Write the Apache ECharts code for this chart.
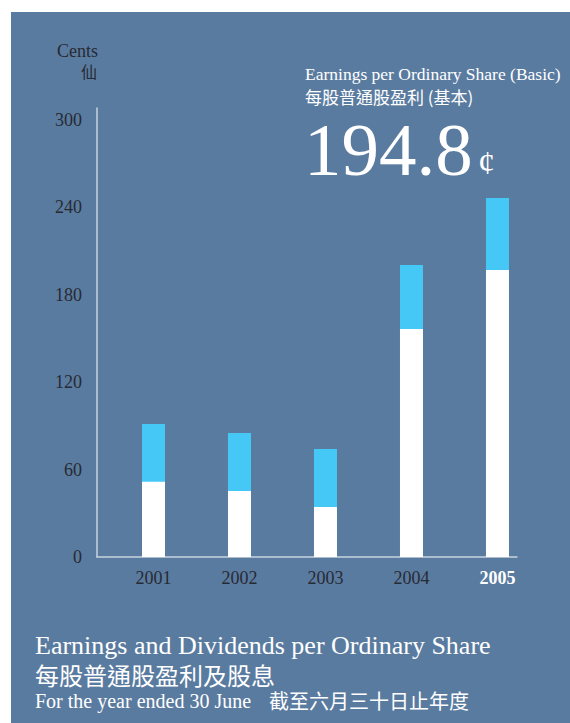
<!DOCTYPE html>
<html><head><meta charset="utf-8">
<script src="https://cdn.jsdelivr.net/npm/echarts@6/dist/echarts.min.js"></script>
<style>html,body{margin:0;padding:0;background:#fff}#c{width:570px;height:723px}</style>
</head><body><div id="c"></div>
<script>
// ---- data ----
const years = ['2001', '2002', '2003', '2004', '2005'];
const earnings = [51.7, 45.3, 34.3, 156.4, 196.9];   // white part (EPS basic)
const dividends = [39.5, 39.8, 39.8, 43.9, 49.4];    // cyan part on top
const yTickStep = 60;
const headlineValue = '194.8';

const SERIF = '"Liberation Serif", "Noto Sans CJK TC", serif';
const CJK = '"Noto Sans CJK TC", sans-serif';
const DARK = '#272a33';
const AXIS = '#c9d3e0';

const positions = years.map((_, i) => i + 1);
const totals = earnings.map((e, i) => +(e + dividends[i]).toFixed(1));

const chart = echarts.init(document.getElementById('c'), null, { renderer: 'svg' });
chart.setOption({
  backgroundColor: '#ffffff',
  animation: false,
  grid: { left: 97, top: 108, width: 420, height: 449, containLabel: false },
  xAxis: {
    type: 'value', min: 0.343, max: 5.227,
    axisLine: { show: true, onZero: false, lineStyle: { color: AXIS, width: 1.5 } },
    axisTick: { show: false },
    splitLine: { show: false },
    axisLabel: {
      customValues: positions,
      margin: 12,
      fontFamily: SERIF, fontSize: 18, color: DARK,
      formatter: v => {
        const i = Math.round(v) - 1;
        if (i < 0 || i >= years.length || Math.abs(v - Math.round(v)) > 1e-6) return '';
        return i === years.length - 1 ? '{hl|' + years[i] + '}' : years[i];
      },
      rich: { hl: { fontFamily: SERIF, fontSize: 18, color: '#ffffff', fontWeight: 'bold' } }
    }
  },
  yAxis: {
    type: 'value', min: 0, max: 308, interval: yTickStep,
    axisLine: { show: true, lineStyle: { color: AXIS, width: 1.5 } },
    axisTick: { show: false },
    splitLine: { show: false },
    axisLabel: {
      margin: 15, fontFamily: SERIF, fontSize: 18, color: DARK,
      formatter: v => (v % yTickStep === 0 ? String(v) : '')
    }
  },
  series: [
    {
      name: 'Dividends', type: 'bar', barWidth: 23, barGap: '-100%',
      itemStyle: { color: '#45c8f5' },
      data: positions.map((p, i) => [p, totals[i]])
    },
    {
      name: 'Earnings', type: 'bar', barWidth: 23, barGap: '-100%',
      itemStyle: { color: '#ffffff' },
      data: positions.map((p, i) => [p, earnings[i]])
    }
  ],
  graphic: [
    { type: 'rect', z: -10, silent: true, shape: { x: 11, y: 12, width: 559, height: 711 }, style: { fill: '#5a7ba0' } },
    { type: 'text', x: 98, y: 51, style: { text: 'Cents', font: '18px ' + SERIF, fill: DARK, align: 'right', verticalAlign: 'middle' } },
    { type: 'text', x: 97, y: 71, style: { text: '仙', font: '16px ' + CJK, fill: DARK, align: 'right', verticalAlign: 'middle' } },
    { type: 'text', x: 305, y: 74, style: { text: 'Earnings per Ordinary Share (Basic)', font: '17.5px ' + SERIF, fill: '#ffffff', align: 'left', verticalAlign: 'middle' } },
    { type: 'text', x: 305, y: 96, style: { text: '每股普通股盈利 (基本)', font: '17px ' + CJK, fill: '#ffffff', align: 'left', verticalAlign: 'middle' } },
    { type: 'text', x: 304, y: 149, style: { text: headlineValue, font: '75px ' + SERIF, lineHeight: 56, fill: '#ffffff', align: 'left', verticalAlign: 'middle' } },
    { type: 'text', x: 478, y: 162, style: { text: '¢', font: '34px ' + SERIF, fill: '#ffffff', align: 'left', verticalAlign: 'middle' } },
    { type: 'text', x: 35, y: 645, style: { text: 'Earnings and Dividends per Ordinary Share', font: '26px ' + SERIF, fill: '#ffffff', align: 'left', verticalAlign: 'middle' } },
    { type: 'text', x: 35, y: 674, style: { text: '每股普通股盈利及股息', font: '24px ' + CJK, fill: '#ffffff', align: 'left', verticalAlign: 'middle' } },
    { type: 'text', x: 35, y: 701, style: { text: 'For the year ended 30 June', font: '20px ' + SERIF, fill: '#ffffff', align: 'left', verticalAlign: 'middle' } },
    { type: 'text', x: 269, y: 700, style: { text: '截至六月三十日止年度', font: '20px ' + CJK, fill: '#ffffff', align: 'left', verticalAlign: 'middle' } }
  ]
});
</script></body></html>
